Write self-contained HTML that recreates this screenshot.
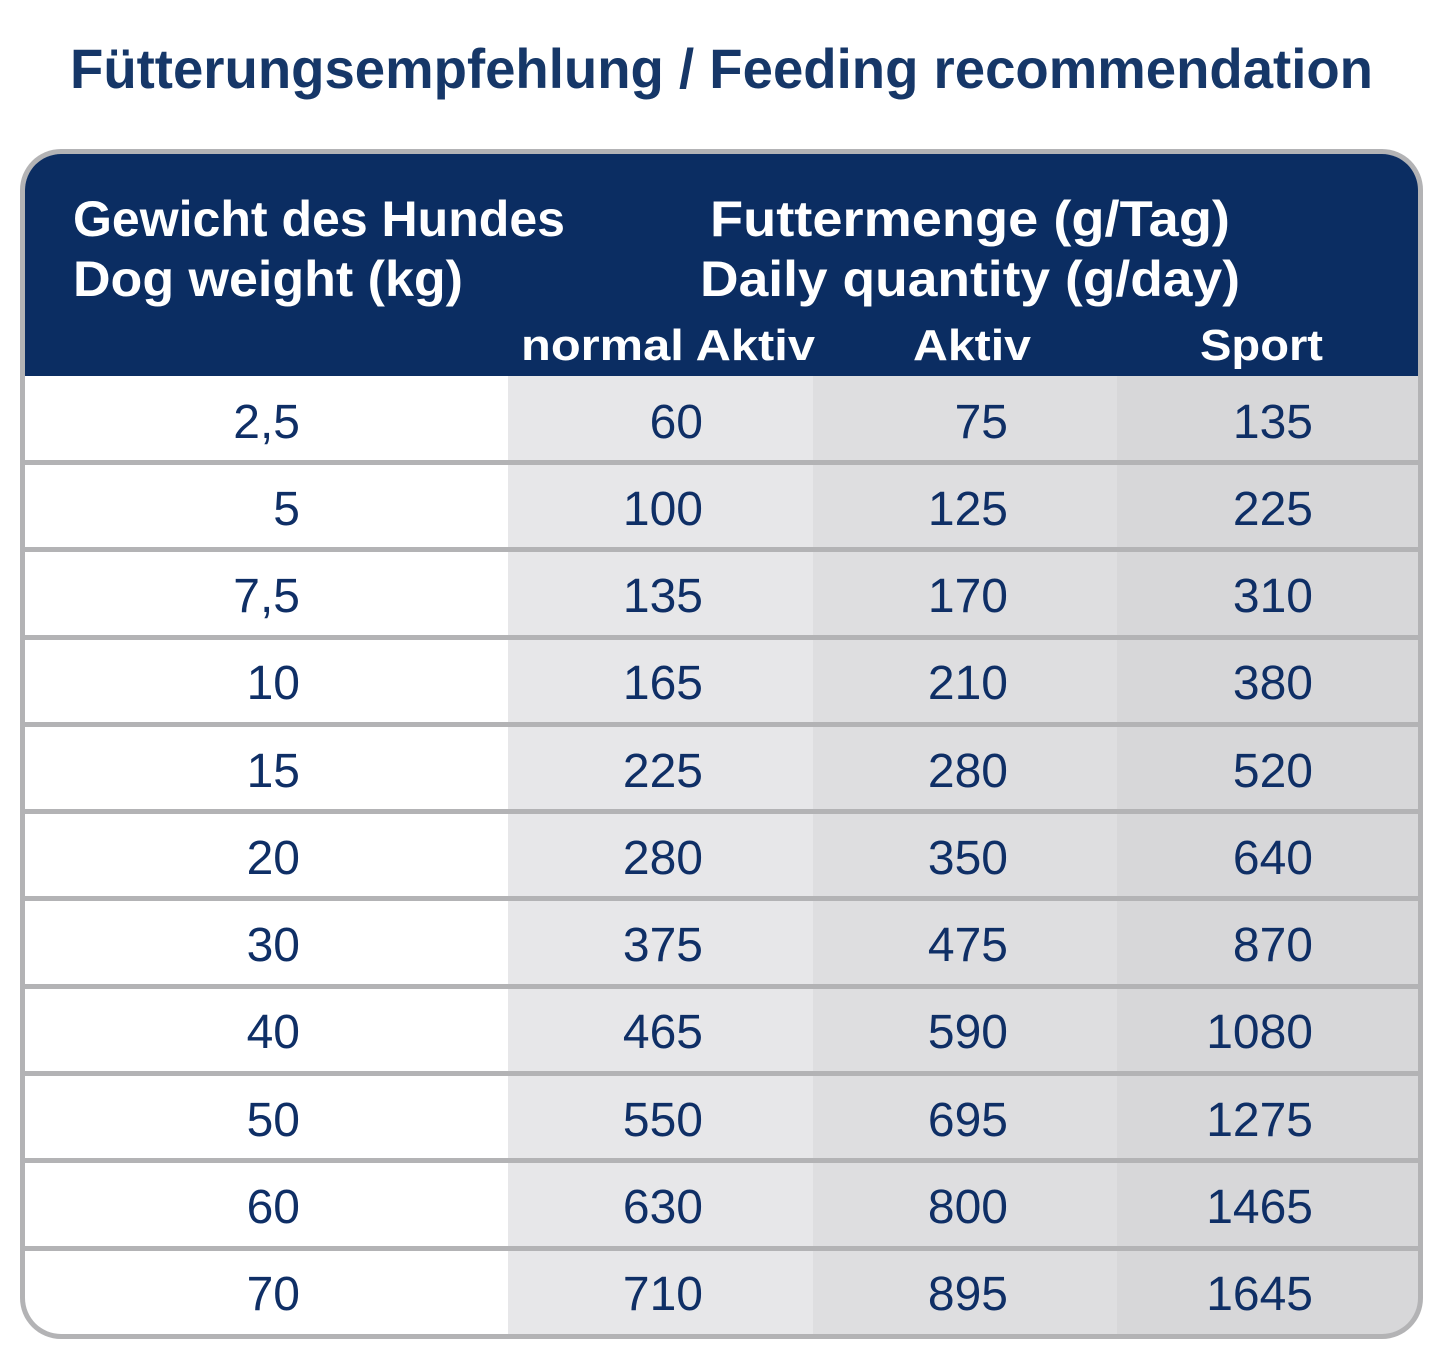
<!DOCTYPE html>
<html><head><meta charset="utf-8"><style>
html,body{margin:0;padding:0;background:#fff;}
svg{display:block;}
text{font-family:"Liberation Sans",sans-serif;}
</style></head><body>
<svg width="1445" height="1354" viewBox="0 0 1445 1354" xmlns="http://www.w3.org/2000/svg">
<defs>
<clipPath id="c"><rect x="25" y="154" width="1393" height="1180" rx="36"/></clipPath>
</defs>
<text x="70" y="88" font-size="56" font-weight="bold" fill="#163768" textLength="1303" lengthAdjust="spacingAndGlyphs">Fütterungsempfehlung / Feeding recommendation</text>
<rect x="20" y="149" width="1403" height="1190" rx="41" fill="#b3b3b5"/>
<g clip-path="url(#c)">
<rect x="25" y="154" width="483" height="1180" fill="#ffffff"/>
<rect x="508" y="154" width="305" height="1180" fill="#e7e7e9"/>
<rect x="813" y="154" width="304" height="1180" fill="#dedee0"/>
<rect x="1117" y="154" width="301" height="1180" fill="#d7d7d9"/>
<rect x="25" y="154" width="1393" height="222" fill="#0b2d62"/>
<g fill="#b3b3b5">
<rect x="25" y="460" width="1393" height="5"/>
<rect x="25" y="547" width="1393" height="5"/>
<rect x="25" y="635" width="1393" height="5"/>
<rect x="25" y="722" width="1393" height="5"/>
<rect x="25" y="809" width="1393" height="5"/>
<rect x="25" y="896" width="1393" height="5"/>
<rect x="25" y="984" width="1393" height="5"/>
<rect x="25" y="1071" width="1393" height="5"/>
<rect x="25" y="1158" width="1393" height="5"/>
<rect x="25" y="1246" width="1393" height="5"/>
</g>
</g>
<g fill="#ffffff" font-weight="bold">
<text x="73" y="236" font-size="50" textLength="492" lengthAdjust="spacingAndGlyphs">Gewicht des Hundes</text>
<text x="73" y="296" font-size="50" textLength="390" lengthAdjust="spacingAndGlyphs">Dog weight (kg)</text>
<text x="710" y="236" font-size="50" textLength="520" lengthAdjust="spacingAndGlyphs">Futtermenge (g/Tag)</text>
<text x="700" y="296" font-size="50" textLength="540" lengthAdjust="spacingAndGlyphs">Daily quantity (g/day)</text>
<text x="521" y="360" font-size="44" textLength="294" lengthAdjust="spacingAndGlyphs">normal Aktiv</text>
<text x="913" y="360" font-size="44" textLength="118" lengthAdjust="spacingAndGlyphs">Aktiv</text>
<text x="1200" y="360" font-size="44" textLength="123" lengthAdjust="spacingAndGlyphs">Sport</text>
</g>
<g fill="#0f2f66" font-size="48" text-anchor="end">
<g transform="translate(0,438)"><text x="300">2,5</text><text x="703">60</text><text x="1008">75</text><text x="1313">135</text></g>
<g transform="translate(0,525)"><text x="300">5</text><text x="703">100</text><text x="1008">125</text><text x="1313">225</text></g>
<g transform="translate(0,612)"><text x="300">7,5</text><text x="703">135</text><text x="1008">170</text><text x="1313">310</text></g>
<g transform="translate(0,699)"><text x="300">10</text><text x="703">165</text><text x="1008">210</text><text x="1313">380</text></g>
<g transform="translate(0,787)"><text x="300">15</text><text x="703">225</text><text x="1008">280</text><text x="1313">520</text></g>
<g transform="translate(0,874)"><text x="300">20</text><text x="703">280</text><text x="1008">350</text><text x="1313">640</text></g>
<g transform="translate(0,961)"><text x="300">30</text><text x="703">375</text><text x="1008">475</text><text x="1313">870</text></g>
<g transform="translate(0,1048)"><text x="300">40</text><text x="703">465</text><text x="1008">590</text><text x="1313">1080</text></g>
<g transform="translate(0,1136)"><text x="300">50</text><text x="703">550</text><text x="1008">695</text><text x="1313">1275</text></g>
<g transform="translate(0,1223)"><text x="300">60</text><text x="703">630</text><text x="1008">800</text><text x="1313">1465</text></g>
<g transform="translate(0,1310)"><text x="300">70</text><text x="703">710</text><text x="1008">895</text><text x="1313">1645</text></g>
</g>
</svg>
</body></html>
